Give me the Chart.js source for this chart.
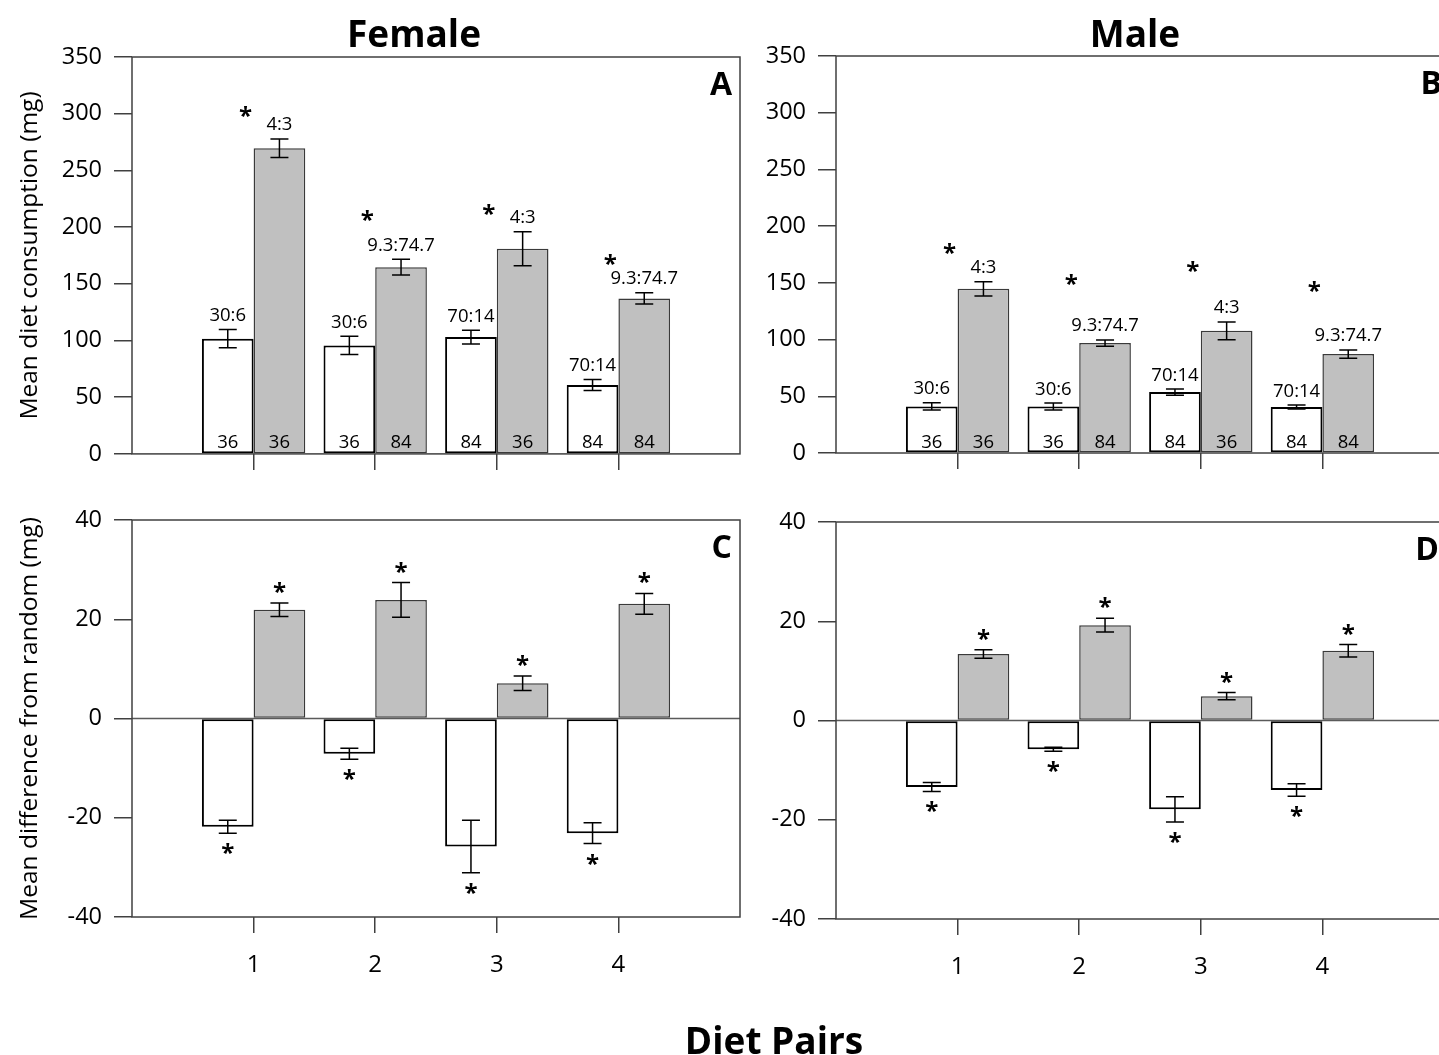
<!DOCTYPE html>
<html>
<head>
<meta charset="utf-8">
<script src="https://cdn.jsdelivr.net/npm/chart.js@4.4.1/dist/chart.umd.min.js"></script>
<style>
html, body { margin:0; padding:0; background:#fff; overflow:hidden; width:1439px; height:1055px; }
body { position:relative; font-family:'Open Sans', sans-serif; }
canvas { position:absolute; }
.ttl { position:absolute; font-weight:bold; font-size:37px; line-height:40px; text-align:center; color:#000; white-space:nowrap; }
</style>
</head>
<body>
<canvas id="cA" width="760" height="480" style="left:0;top:0"></canvas>
<canvas id="cB" width="764" height="480" style="left:700px;top:0"></canvas>
<canvas id="cC" width="760" height="540" style="left:0;top:480px"></canvas>
<canvas id="cD" width="764" height="540" style="left:700px;top:480px"></canvas>
<div class="ttl" style="left:214px;top:13px;width:400px">Female</div>
<div class="ttl" style="left:935px;top:13px;width:400px">Male</div>
<div class="ttl" style="left:574px;top:1020px;width:400px">Diet Pairs</div>
<script>
// ---------------- data ----------------
const pairLabels = ['', '1', '2', '3', '4', ''];

const lowDiets  = ['30:6', '30:6', '70:14', '70:14'];
const highDiets = ['4:3', '9.3:74.7', '4:3', '9.3:74.7'];
const lowN  = ['36', '36', '84', '84'];
const highN = ['36', '84', '36', '84'];

// Panel A – female consumption (mg)
const femaleLow     = [101.6, 95.7, 103.0, 60.8];
const femaleLowErr  = [8.0, 8.0, 6.1, 4.8];
const femaleHigh    = [269.5, 164.7, 180.9, 137.1];
const femaleHighErr = [8.2, 7.0, 14.9, 5.0];
const femaleStarLevel = [302, 210.5, 215.5, 171];

// Panel B – male consumption (mg)
const maleLow     = [41.0, 41.0, 53.7, 40.5];
const maleLowErr  = [3.2, 3.0, 2.7, 1.8];
const maleHigh    = [144.7, 96.9, 107.7, 87.2];
const maleHighErr = [6.3, 2.8, 7.8, 3.7];
const maleStarLevel = [180.6, 152.7, 164.4, 146.8];

// Panel C – female difference from random (mg)
const femaleDiffLow     = [-21.8, -7.1, -25.8, -23.1];
const femaleDiffLowErr  = [1.3, 1.1, 5.3, 2.1];
const femaleDiffHigh    = [21.9, 23.9, 7.1, 23.1];
const femaleDiffHighErr = [1.35, 3.5, 1.45, 2.1];

// Panel D – male difference from random (mg)
const maleDiffLow     = [-13.4, -5.8, -17.9, -14.0];
const maleDiffLowErr  = [0.9, 0.4, 2.55, 1.25];
const maleDiffHigh    = [13.4, 19.2, 4.9, 14.05];
const maleDiffHighErr = [0.87, 1.38, 0.74, 1.24];

// ---------------- helpers ----------------
const FONT = "'Open Sans', 'DejaVu Sans', sans-serif";
Chart.defaults.font.family = FONT;
Chart.defaults.color = '#000';
const pad = arr => [null, ...arr, null];

function centeredText(ctx, text, cx, cy) {
  const m = ctx.measureText(text);
  ctx.fillText(text, cx, cy + (m.actualBoundingBoxAscent - m.actualBoundingBoxDescent) / 2);
}

const panelPlugin = {
  id: 'panel',
  beforeDatasetsDraw(chart, args, o) {
    const { ctx, chartArea: a, scales: { y } } = chart;
    if (o.zeroLine) {
      const y0 = y.getPixelForValue(0);
      ctx.save();
      ctx.strokeStyle = '#5a5a5a';
      ctx.lineWidth = 1.5;
      ctx.beginPath(); ctx.moveTo(a.left, y0); ctx.lineTo(a.right, y0); ctx.stroke();
      ctx.restore();
    }
  },
  afterDatasetsDraw(chart, args, o) {
    const { ctx, chartArea: a, scales: { x, y } } = chart;
    ctx.save();
    // frame
    ctx.strokeStyle = '#404040';
    ctx.lineWidth = 1.5;
    ctx.strokeRect(a.left, a.top, a.right - a.left, a.bottom - a.top);
    ctx.fillStyle = '#000';
    ctx.textAlign = 'center';
    ctx.textBaseline = 'alphabetic';
    chart.data.datasets.forEach((ds, di) => {
      const meta = chart.getDatasetMeta(di);
      meta.data.forEach((bar, i) => {
        const v = ds.data[i];
        if (v === null || v === undefined) return;
        const e = ds.errors[i];
        const yt = y.getPixelForValue(v + e), yb = y.getPixelForValue(v - e);
        const cx = bar.x;
        ctx.strokeStyle = '#000';
        ctx.lineWidth = 1.5;
        ctx.beginPath();
        ctx.moveTo(cx, yt); ctx.lineTo(cx, yb);
        ctx.moveTo(cx - 9, yt); ctx.lineTo(cx + 9, yt);
        ctx.moveTo(cx - 9, yb); ctx.lineTo(cx + 9, yb);
        ctx.stroke();
        if (o.mode === 'top') {
          ctx.font = '18.5px ' + FONT;
          centeredText(ctx, ds.diets[i], cx, yt - 15);
          centeredText(ctx, ds.ns[i], cx, y.getPixelForValue(0) - 12);
        } else {
          ctx.font = 'bold 24px ' + FONT;
          const cy = v >= 0 ? yt - 15.5 : yb + 15.5;
          centeredText(ctx, '*', cx, cy);
        }
      });
    });
    if (o.mode === 'top' && o.stars) {
      ctx.font = 'bold 24px ' + FONT;
      o.stars.forEach((lvl, i) => {
        const cx = x.getPixelForValue(i + 1) - 8;
        centeredText(ctx, '*', cx, y.getPixelForValue(lvl));
      });
    }
    // panel letter
    ctx.font = 'bold 32px ' + FONT;
    ctx.textAlign = 'right';
    const m = ctx.measureText(o.letter);
    ctx.fillText(o.letter, a.right - o.letterInset, a.top + 14.5 + m.actualBoundingBoxAscent);
    ctx.restore();
  }
};

function makePanel(id, cfg) {
  const datasets = [
    { label: 'low', data: pad(cfg.low), errors: pad(cfg.lowErr), diets: pad(lowDiets), ns: pad(lowN),
      backgroundColor: '#ffffff', borderColor: '#000000', borderWidth: 2 },
    { label: 'high', data: pad(cfg.high), errors: pad(cfg.highErr), diets: pad(highDiets), ns: pad(highN),
      backgroundColor: '#c0c0c0', borderColor: '#3a3a3a', borderWidth: 1.5 }
  ];
  return new Chart(document.getElementById(id), {
    type: 'bar',
    data: { labels: pairLabels, datasets },
    plugins: [panelPlugin],
    options: {
      responsive: false,
      animation: false,
      events: [],
      layout: { padding: cfg.padding },
      datasets: { bar: { categoryPercentage: 0.85, barPercentage: 1.0, borderSkipped: false } },
      plugins: {
        legend: { display: false },
        tooltip: { enabled: false },
        panel: { mode: cfg.mode, letter: cfg.letter, letterInset: cfg.letterInset, stars: cfg.stars, zeroLine: cfg.zeroLine }
      },
      scales: {
        x: {
          type: 'category',
          offset: false,
          border: { display: false },
          grid: {
            display: true, drawOnChartArea: false, drawTicks: true, tickLength: 16, offset: false, lineWidth: 1.5,
            color: c => (c.index >= 1 && c.index <= 4) ? '#404040' : 'rgba(0,0,0,0)'
          },
          ticks: { display: cfg.showX, autoSkip: false, maxRotation: 0, padding: 18, font: { size: 24 }, color: '#000' },
          afterFit: s => { s.height = cfg.xHeight; }
        },
        y: {
          min: cfg.yMin, max: cfg.yMax,
          border: { display: false },
          grid: { drawOnChartArea: false, drawTicks: true, tickLength: 18, color: '#404040', lineWidth: 1.5 },
          ticks: { stepSize: cfg.step, padding: 12, font: { size: 23.5 }, color: '#000' },
          title: cfg.yTitle ? { display: true, text: cfg.yTitle, font: { size: 24.5, lineHeight: 1 }, padding: { top: 18, bottom: 0 }, color: '#000' } : { display: false },
          afterFit: s => { s.width = cfg.yWidth; }
        }
      }
    }
  });
}

makePanel('cA', {
  low: femaleLow, lowErr: femaleLowErr, high: femaleHigh, highErr: femaleHighErr,
  mode: 'top', letter: 'A', letterInset: 8, stars: femaleStarLevel,
  yMin: 0, yMax: 350, step: 50, yTitle: 'Mean diet consumption (mg)',
  padding: { top: 57, right: 20, bottom: 5, left: 0 }, yWidth: 132, xHeight: 20, showX: false
});
makePanel('cB', {
  low: maleLow, lowErr: maleLowErr, high: maleHigh, highErr: maleHighErr,
  mode: 'top', letter: 'B', letterInset: 2, stars: maleStarLevel,
  yMin: 0, yMax: 350, step: 50, yTitle: null,
  padding: { top: 56, right: 20, bottom: 7, left: 0 }, yWidth: 136, xHeight: 20, showX: false
});
makePanel('cC', {
  low: femaleDiffLow, lowErr: femaleDiffLowErr, high: femaleDiffHigh, highErr: femaleDiffHighErr,
  mode: 'bottom', letter: 'C', letterInset: 8, zeroLine: true,
  yMin: -40, yMax: 40, step: 20, yTitle: 'Mean difference from random (mg)',
  padding: { top: 40, right: 20, bottom: 23, left: 0 }, yWidth: 132, xHeight: 80, showX: true
});
makePanel('cD', {
  low: maleDiffLow, lowErr: maleDiffLowErr, high: maleDiffHigh, highErr: maleDiffHighErr,
  mode: 'bottom', letter: 'D', letterInset: 5, zeroLine: true,
  yMin: -40, yMax: 40, step: 20, yTitle: null,
  padding: { top: 42, right: 20, bottom: 21, left: 0 }, yWidth: 136, xHeight: 80, showX: true
});
</script>
</body>
</html>
